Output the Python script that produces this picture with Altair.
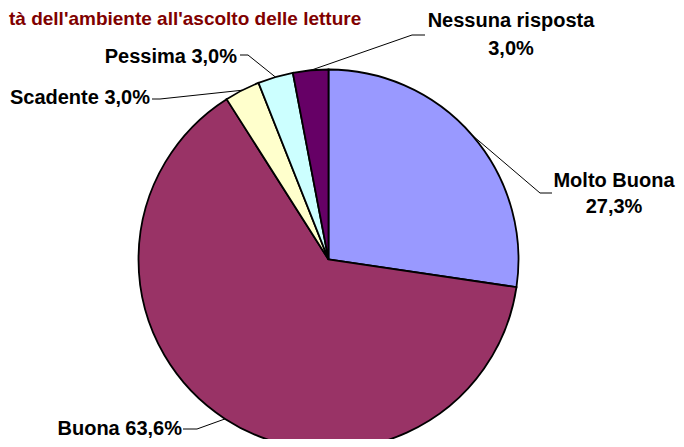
import numpy as np
import pandas as pd
import altair as alt

# ---- data ----
categories = ["Molto Buona", "Buona", "Scadente", "Pessima", "Nessuna risposta"]
values = [27.3, 63.6, 3.0, 3.0, 3.0]
colors = ["#9999FF", "#993366", "#FFFFCC", "#CCFFFF", "#660066"]
title_text = "tà dell'ambiente all'ascolto delle letture"

# ---- layout (svg pixel coords = page coords - 8) ----
OFF = 8
W, H = 668, 431
CX, CY, R = 328.5 - OFF, 259.5 - OFF, 190
FONT = "Liberation Sans"
FS = 20

def fmt(v):
    return f"{v:.1f}".replace(".", ",") + "%"

df = pd.DataFrame({"label": categories, "value": values, "idx": range(len(values))})

# mid-angle of each slice (clockwise from 12 o'clock)
vals = np.array(values)
cum = np.cumsum(vals) - vals / 2
mid = cum / vals.sum() * 2 * np.pi
edge_x = CX + R * np.sin(mid)
edge_y = CY - R * np.cos(mid)

# leader line elbows and ends (page coords), per category
elbow = {"Molto Buona": (540, 193), "Buona": (197, 429), "Scadente": (160, 99),
         "Pessima": (248, 55), "Nessuna risposta": (412, 35)}
end = {"Molto Buona": (552, 193), "Buona": (183, 429), "Scadente": (152, 99),
       "Pessima": (240, 55), "Nessuna risposta": (425, 35)}

rows = []
for i, c in enumerate(categories):
    rows.append({"label": c, "seq": 0, "x": edge_x[i], "y": edge_y[i]})
    rows.append({"label": c, "seq": 1, "x": elbow[c][0] - OFF, "y": elbow[c][1] - OFF})
    rows.append({"label": c, "seq": 2, "x": end[c][0] - OFF, "y": end[c][1] - OFF})
lines_df = pd.DataFrame(rows)

# labels
right_pos = {"Buona": (182, 435), "Scadente": (150, 104), "Pessima": (237, 63)}
center_pos = {"Molto Buona": (614, 187, 213), "Nessuna risposta": (511, 27, 55)}
rl = []
for i, c in enumerate(categories):
    if c in right_pos:
        rl.append({"text": f"{c} {fmt(values[i])}", "x": right_pos[c][0] - OFF, "y": right_pos[c][1] - OFF})
rl_df = pd.DataFrame(rl)
cl = []
for i, c in enumerate(categories):
    if c in center_pos:
        x, y1, y2 = center_pos[c]
        cl.append({"text": c, "x": x - OFF, "y": y1 - OFF})
        cl.append({"text": fmt(values[i]), "x": x - OFF, "y": y2 - OFF})
cl_df = pd.DataFrame(cl)
title_df = pd.DataFrame({"text": [title_text], "x": [1], "y": [17]})

pie = alt.Chart(df).mark_arc(radius=R, stroke="black", strokeWidth=1.8).encode(
    theta=alt.Theta("value:Q", stack=True),
    color=alt.Color("label:N", scale=alt.Scale(domain=categories, range=colors), legend=None),
    order=alt.Order("idx:Q"),
    x=alt.value(CX),
    y=alt.value(CY),
)

leaders = alt.Chart(lines_df).mark_line(color="black", strokeWidth=1).encode(
    x=alt.X("x:Q", scale=None),
    y=alt.Y("y:Q", scale=None),
    detail="label:N",
    order="seq:Q",
)

right_text = alt.Chart(rl_df).mark_text(
    align="right", baseline="alphabetic", font=FONT, fontSize=FS, fontWeight="bold", color="black"
).encode(x=alt.X("x:Q", scale=None), y=alt.Y("y:Q", scale=None), text="text:N")

center_text = alt.Chart(cl_df).mark_text(
    align="center", baseline="alphabetic", font=FONT, fontSize=FS, fontWeight="bold", color="black"
).encode(x=alt.X("x:Q", scale=None), y=alt.Y("y:Q", scale=None), text="text:N")

title = alt.Chart(title_df).mark_text(
    align="left", baseline="alphabetic", font=FONT, fontSize=19, fontWeight="bold", color="#800000"
).encode(x=alt.X("x:Q", scale=None), y=alt.Y("y:Q", scale=None), text="text:N")

chart = alt.layer(pie, leaders, right_text, center_text, title).properties(
    width=W, height=H, autosize=alt.AutoSizeParams(type="none"), padding=0
).configure_view(stroke=None)

chart.save("out.html", embed_options={"renderer": "svg", "actions": False})
